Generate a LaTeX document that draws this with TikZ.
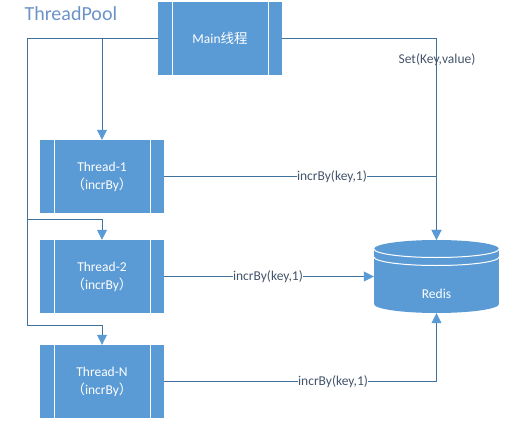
\documentclass[tikz,border=0pt]{standalone}
\usepackage{fontspec}
\setmainfont{Carlito}
\newfontfamily\cjk{Noto Sans CJK SC}
\usetikzlibrary{arrows.meta}
\definecolor{boxblue}{HTML}{5B9BD5}
\definecolor{linec}{HTML}{41719C}
\definecolor{titlec}{HTML}{6C93C8}
\definecolor{labc}{HTML}{44546A}
\begin{document}
\begin{tikzpicture}[x=1pt,y=-1pt,
  proc/.style={fill=boxblue, minimum width=124pt, minimum height=73pt, inner sep=0pt,
    text=white, align=center, font=\fontsize{13.5}{18}\selectfont,
    path picture={
      \draw[white,line width=0.8pt] ([xshift=14pt]path picture bounding box.north west) -- ([xshift=14pt]path picture bounding box.south west);
      \draw[white,line width=0.8pt] ([xshift=-14pt]path picture bounding box.north east) -- ([xshift=-14pt]path picture bounding box.south east);
    }},
  ln/.style={draw=linec, line width=0.8pt},
  arr/.style={ln, -{Triangle[length=10pt,width=10pt,fill=boxblue,color=boxblue]}},
  lab/.style={fill=white, inner sep=0.5pt, text=labc, font=\fontsize{13.5}{16}\selectfont}
]
\useasboundingbox (0,0) rectangle (509,431);

\node[anchor=west, text=titlec, font=\fontsize{20}{24}\selectfont] (title) at (21,14) {ThreadPool};

\node[proc] (main) at (220,38.5) {Main{\cjk 线程}};
\node[proc] (t1) at (102,176.5) {Thread-1\\{\cjk（}incrBy{\cjk）}};
\node[proc] (t2) at (102,276.5) {Thread-2\\{\cjk（}incrBy{\cjk）}};
\node[proc] (tN) at (102,381.5) {Thread-N\\{\cjk（}incrBy{\cjk）}};

% Redis cylinder
\node[minimum width=125pt, minimum height=73pt, inner sep=0pt] (redis) at (436.5,276.5) {};
\fill[boxblue] (374,249) rectangle (499,304);
\fill[boxblue] (436.5,249) ellipse [x radius=62.5, y radius=9];
\fill[boxblue] (436.5,304) ellipse [x radius=62.5, y radius=9];
\draw[white,line width=1pt] (374,249) arc[start angle=180,end angle=0,x radius=62.5,y radius=8.5];
\draw[white,line width=1pt] (374,257) arc[start angle=180,end angle=0,x radius=62.5,y radius=8.5];
\node[text=white, font=\fontsize{13.5}{16}\selectfont] (rlabel) at (436.5,294) {Redis};

% connectors
\coordinate (L1) at (27,219);
\coordinate (L2) at (27,325);
\draw[ln] (main.west) -| (L2);
\draw[arr] (main.west -| t1.north) -- (t1.north);
\draw[arr] (L1) -| (t2.north);
\draw[arr] (L2) -| (tN.north);
\draw[arr] (main.east) -| (redis.north);
\node[text=labc, font=\fontsize{13.5}{16}\selectfont] (setlab) at (437,60) {Set(Key,value)};
\draw[arr] (t1.east) -| (redis.north) node[lab, pos=0.308] {incrBy(key,1)};
\draw[arr] (t2.east) -- (redis.west) node[lab, pos=0.495] {incrBy(key,1)};
\draw[arr] (tN.east) -| (redis.south) node[lab, pos=0.31] {incrBy(key,1)};
\end{tikzpicture}
\end{document}
